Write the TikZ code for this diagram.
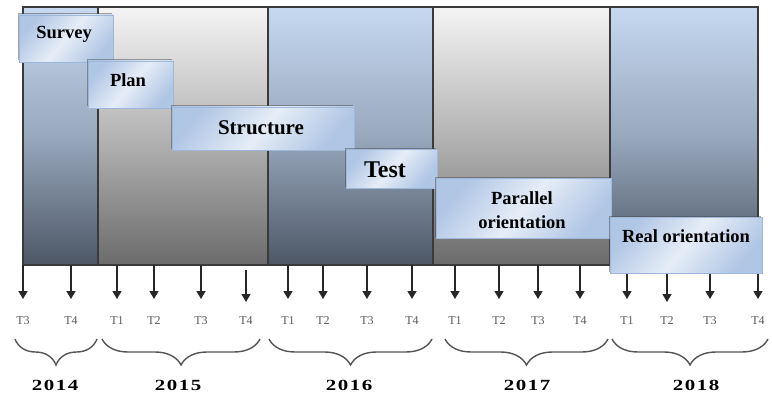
\documentclass[tikz,border=0pt]{standalone}
\usepackage{fontspec}
\setmainfont{Liberation Serif}
\newfontfamily\yearfont[FakeStretch=1.35,LetterSpace=10]{Liberation Serif}
\usetikzlibrary{arrows.meta,decorations.pathreplacing,shadows}

\definecolor{bluetop}{HTML}{C6D9F1}
\definecolor{bluemid}{HTML}{98A8BD}
\definecolor{bluebot}{HTML}{4D5766}
\definecolor{graytop}{HTML}{F4F4F4}
\definecolor{graymid}{HTML}{B4B4B4}
\definecolor{graybot}{HTML}{6B6B6B}
\definecolor{taskedge}{HTML}{9DB8DB}
\definecolor{taskdark}{HTML}{B0C6E5}
\definecolor{tasklight}{HTML}{E6EDF7}
\definecolor{framecol}{HTML}{3A3A3A}
\definecolor{bracecol}{HTML}{555555}

\begin{document}
\begin{tikzpicture}[x=1pt,y=-1pt,
  bluecol/.style={top color=bluetop, bottom color=bluebot, middle color=bluemid},
  graycol/.style={top color=graytop, bottom color=graybot, middle color=graymid},
  taskbox/.style={draw=taskedge, line width=0.8pt, inner sep=0pt,
    left color=taskdark, right color=taskdark, middle color=tasklight, shading angle=50,
    drop shadow={shadow xshift=-1.2pt, shadow yshift=1.5pt, fill=black!70, opacity=0.5}},
  tasktext/.style={inner sep=0pt, text=black, font=\bfseries},
  arr/.style={line width=1.4pt, draw=black!85, -{Triangle[width=9pt,length=8pt]}},
  ticklbl/.style={inner sep=0pt, text=black!65, font=\fontsize{12}{14}\selectfont},
  yearbrace/.style={decorate, decoration={brace, mirror, amplitude=26pt}, line width=1.4pt, draw=bracecol},
  yearlbl/.style={inner sep=0pt, font=\yearfont\bfseries\fontsize{15.5}{17}\selectfont}
]
\useasboundingbox (0,0) rectangle (772,396);

% columns
\path[bluecol] (23,7) rectangle (98,265);
\path[graycol] (98,7) rectangle (268,265);
\path[bluecol] (268,7) rectangle (433,265);
\path[graycol] (433,7) rectangle (610,265);
\path[bluecol] (610,7) rectangle (758,265);
\foreach \x in {98,268,433,610}{\draw[line width=1.5pt, draw=framecol] (\x,7) -- (\x,265);}
\draw[line width=1.8pt, draw=framecol] (23,7) rectangle (758,265);

% arrows and quarter labels
\foreach \x/\s/\e/\t [count=\i] in {23/265/299/T3, 71/265/299/T4,
  117/265/299/T1, 154/265/299/T2, 201/265/299/T3, 246/270/302/T4,
  288/265/299/T1, 323/265/299/T2, 367/265/299/T3, 412/265/299/T4,
  455/265/299/T1, 499/265/299/T2, 538/265/299/T3, 580/265/299/T4,
  627/265/299/T1, 667/265/302/T2, 710/265/299/T3, 758/265/299/T4}{
  \coordinate (top\i) at (\x,\s);
  \coordinate (tip\i) at (\x,\e);
  \draw[arr] (top\i) -- (tip\i);
  \node[ticklbl] (q\i) at (\x,321) {\t};
}

% task boxes
\node[taskbox, minimum width=94pt, minimum height=47pt] (survey) at (66,38.5) {};
\node[taskbox, minimum width=85pt, minimum height=47pt] (plan) at (130.5,84.5) {};
\node[taskbox, minimum width=182pt, minimum height=43pt] (structure) at (263,128.5) {};
\node[taskbox, minimum width=91pt, minimum height=39pt] (test) at (391.5,168.5) {};
\node[taskbox, minimum width=175pt, minimum height=60pt] (parallel) at (523.5,208) {};
\node[taskbox, minimum width=152pt, minimum height=56pt] (real) at (686.5,245) {};

\node[tasktext, font=\bfseries\fontsize{18.5}{21}\selectfont] (surveyt) at (64,34) {Survey};
\node[tasktext, font=\bfseries\fontsize{18.5}{21}\selectfont] (plant) at (128,80) {Plan};
\node[tasktext, font=\bfseries\fontsize{21}{24}\selectfont] (structuret) at (261,128) {Structure};
\node[tasktext, font=\bfseries\fontsize{24}{27}\selectfont] (testt) at (385,170) {Test};
\node[tasktext, align=center, font=\bfseries\fontsize{18.5}{24}\selectfont] (parallelt) at (522,210) {Parallel\\orientation};
\node[tasktext, font=\bfseries\fontsize{18.5}{21}\selectfont] (realt) at (686,236) {Real orientation};

% braces and years
\coordinate (b14l) at (15,339);  \coordinate (b14r) at (97,339);
\coordinate (b15l) at (102,339); \coordinate (b15r) at (260,339);
\coordinate (b16l) at (269,339); \coordinate (b16r) at (432,339);
\coordinate (b17l) at (445,339); \coordinate (b17r) at (608,339);
\coordinate (b18l) at (612,339); \coordinate (b18r) at (768,339);
\draw[yearbrace] (b14l) -- (b14r);
\draw[yearbrace] (b15l) -- (b15r);
\draw[yearbrace] (b16l) -- (b16r);
\draw[yearbrace] (b17l) -- (b17r);
\draw[yearbrace] (b18l) -- (b18r);

\node[yearlbl] (y14) at (55,385) {2014};
\node[yearlbl] (y15) at (178,385) {2015};
\node[yearlbl] (y16) at (349,385) {2016};
\node[yearlbl] (y17) at (527,385) {2017};
\node[yearlbl] (y18) at (696,385) {2018};
\end{tikzpicture}
\end{document}
